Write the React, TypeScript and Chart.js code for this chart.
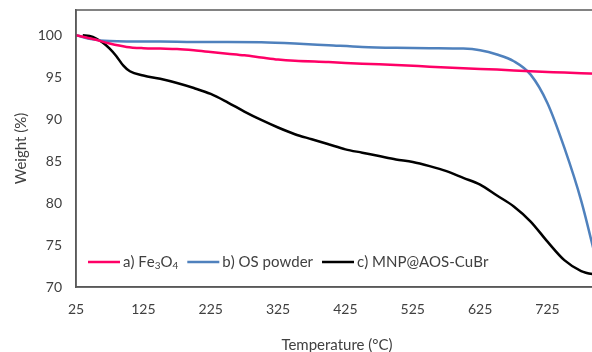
import { useEffect, useRef } from "react";
import { Chart, registerables } from "chart.js";

Chart.register(...registerables);

// ---- data ----
const fe3o4Temps = [25, 50, 75, 100, 125, 150, 175, 200, 225, 250, 275, 300, 325, 350, 400, 450, 500, 550, 600, 650, 700, 750, 800];
const fe3o4Weights = [100, 99.55, 99.0, 98.6, 98.45, 98.4, 98.35, 98.2, 98.0, 97.8, 97.6, 97.35, 97.1, 96.95, 96.8, 96.6, 96.45, 96.25, 96.05, 95.9, 95.7, 95.55, 95.4];

const osTemps = [25, 50, 75, 100, 150, 200, 250, 300, 350, 400, 450, 500, 550, 600, 625, 650, 675, 700, 725, 750, 775, 800];
const osWeights = [100, 99.5, 99.3, 99.25, 99.25, 99.2, 99.2, 99.15, 99.0, 98.8, 98.6, 98.5, 98.45, 98.4, 98.2, 97.7, 96.9, 95.3, 91.9, 86.6, 80.3, 72.3];

const mnpTemps = [35, 45, 55, 65, 75, 85, 95, 105, 125, 150, 175, 200, 225, 250, 275, 300, 325, 350, 375, 400, 425, 450, 475, 500, 525, 550, 575, 600, 625, 650, 675, 700, 725, 750, 775, 800];
const mnpWeights = [100, 99.9, 99.6, 99.1, 98.4, 97.5, 96.4, 95.7, 95.2, 94.8, 94.3, 93.7, 93.0, 92.0, 90.9, 89.9, 89.0, 88.2, 87.6, 87.0, 86.4, 86.0, 85.6, 85.2, 84.9, 84.4, 83.8, 83.0, 82.2, 80.9, 79.6, 77.8, 75.4, 73.2, 71.9, 71.4];

const seriesLabels = ["a) Fe₃O₄", "b) OS powder", "c) MNP@AOS-CuBr"];
const seriesColors = ["#FF0066", "#4F81BD", "#000000"];

const xTicks = [25, 125, 225, 325, 425, 525, 625, 725];
const yTicks = [70, 75, 80, 85, 90, 95, 100];
const xMin = 25;
const xMax = 800;
const yMin = 70;
const yMax = 103;

const xTitle = "Temperature (°C)";
const yTitle = "Weight (%)";

const FONT = "Lato";
const TEXT_COLOR = "#404040";
const FRAME_COLOR = "#595959";

const subMap: Record<string, string> = { "₀": "0", "₁": "1", "₂": "2", "₃": "3", "₄": "4", "₅": "5", "₆": "6", "₇": "7", "₈": "8", "₉": "9" };

const framePlugin = {
  id: "plotFrame",
  afterDraw(c: any) {
    const a = c.chartArea;
    c.ctx.save();
    c.ctx.strokeStyle = FRAME_COLOR;
    c.ctx.lineWidth = 1.5;
    c.ctx.strokeRect(a.left, a.top, a.width, a.height);
    c.ctx.restore();
  },
};

const legendPlugin = {
  id: "insideLegend",
  afterDraw(chart: any) {
    const ctx = chart.ctx;
    ctx.save();
    const yMid = 262;
    const baseline = yMid + 5;
    let x = 88;
    chart.data.datasets.forEach((ds: any) => {
      ctx.strokeStyle = ds.borderColor;
      ctx.lineWidth = 2.5;
      ctx.beginPath();
      ctx.moveTo(x, yMid);
      ctx.lineTo(x + 32, yMid);
      ctx.stroke();
      x += 35;
      ctx.fillStyle = TEXT_COLOR;
      ctx.textBaseline = "alphabetic";
      ctx.textAlign = "left";
      for (const ch of Array.from(ds.label as string)) {
        if (subMap[ch]) {
          ctx.font = `10px ${FONT}`;
          const t = subMap[ch];
          ctx.fillText(t, x, baseline + 2);
          x += ctx.measureText(t).width;
        } else {
          ctx.font = `15px ${FONT}`;
          ctx.fillText(ch, x, baseline);
          x += ctx.measureText(ch).width;
        }
      }
      x += 9;
    });
    ctx.restore();
  },
};

function toPoints(xs: number[], ys: number[]) {
  return xs.map((v, i) => ({ x: v, y: ys[i] }));
}

export default function App() {
  const ref = useRef<HTMLCanvasElement | null>(null);

  useEffect(() => {
    if (!ref.current) return;
    const chart = new Chart(ref.current, {
      type: "line",
      data: {
        datasets: [
          { label: seriesLabels[0], data: toPoints(fe3o4Temps, fe3o4Weights), borderColor: seriesColors[0] },
          { label: seriesLabels[1], data: toPoints(osTemps, osWeights), borderColor: seriesColors[1] },
          { label: seriesLabels[2], data: toPoints(mnpTemps, mnpWeights), borderColor: seriesColors[2] },
        ].map((d) => ({
          ...d,
          borderWidth: 2.5,
          pointRadius: 0,
          fill: false,
          tension: 0.4,
          cubicInterpolationMode: "monotone" as const,
        })),
      },
      options: {
        animation: false,
        responsive: false,
        devicePixelRatio: 1,
        layout: { padding: { top: 10, right: 22, left: 0, bottom: 0 } },
        plugins: { legend: { display: false }, tooltip: { enabled: false } },
        scales: {
          x: {
            type: "linear",
            min: xMin,
            max: xMax,
            afterBuildTicks: (s: any) => {
              s.ticks = xTicks.map((v) => ({ value: v }));
            },
            afterFit: (s: any) => {
              s.height = 73;
              s.paddingLeft = 0;
              s.paddingRight = 0;
            },
            grid: { display: false, drawTicks: false },
            border: { display: true, color: FRAME_COLOR, width: 1.5 },
            ticks: { padding: 14, color: TEXT_COLOR, font: { family: FONT, size: 14 }, maxRotation: 0, autoSkip: false },
            title: { display: true, text: xTitle, color: TEXT_COLOR, font: { family: FONT, size: 15 }, padding: { top: 0, bottom: 6 } },
          },
          y: {
            type: "linear",
            min: yMin,
            max: yMax,
            afterBuildTicks: (s: any) => {
              s.ticks = yTicks.map((v) => ({ value: v }));
            },
            afterFit: (s: any) => {
              s.width = 76;
              s.paddingTop = 0;
              s.paddingBottom = 0;
            },
            grid: { display: false, drawTicks: false },
            border: { display: true, color: FRAME_COLOR, width: 1.5 },
            ticks: { padding: 14, color: TEXT_COLOR, font: { family: FONT, size: 14 } },
            title: { display: true, text: yTitle, color: TEXT_COLOR, font: { family: FONT, size: 15 }, padding: { top: 12, bottom: 0 } },
          },
        },
      },
      plugins: [framePlugin, legendPlugin],
    });
    return () => chart.destroy();
  }, []);

  return (
    <div style={{ position: "fixed", left: 0, top: 0, width: 592, height: 352, overflow: "hidden", background: "#fff" }}>
      <canvas ref={ref} width={620} height={360} style={{ display: "block" }} />
    </div>
  );
}
